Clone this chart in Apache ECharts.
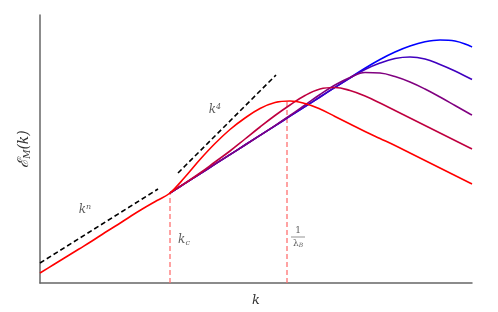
<!DOCTYPE html>
<html><head><meta charset="utf-8">
<script src="https://cdn.jsdelivr.net/npm/echarts@6/dist/echarts.min.js"></script>
<style>html,body{margin:0;padding:0;background:#fff}#c{width:498px;height:312px}</style>
</head><body><div id="c"></div>
<script>
// Values (arbitrary units)
const red    = [[0,10],[13,18],[26,26],[39,34],[52,42],[65,50.5],[78,58.5],[91,67],[104,75],[117,82.5],[130,90],[145,106],[160,123.5],[175,139.5],[190,153.5],[205,165],[220,174.5],[235,180.5],[250,182],[265,179.5],[280,174],[295,166.5],[310,159],[325,151.5],[340,144.5],[355,137.5],[370,130],[385,122.5],[400,115],[415,107.5],[430,100],[432,99]];
const curve2 = [[130,90],[145,99.8],[160,110],[175,121],[190,132],[205,144],[220,156],[235,167.5],[250,178],[265,187.5],[280,194],[295,195.5],[310,192.5],[325,187],[340,180],[355,172.5],[370,165],[385,157.5],[400,150],[415,142.5],[430,135],[432,134]];
const curve3 = [[130,90],[145,99.6],[160,109.2],[175,118.8],[190,128.4],[205,138],[220,147.6],[235,157.4],[250,167.5],[265,178],[280,188.5],[295,198],[310,205.5],[325,210.5],[340,210],[355,206.5],[370,201],[385,194],[400,186],[415,177.5],[430,169],[432,168]];
const curve4 = [[130,90],[145,99.6],[160,109.2],[175,118.8],[190,128.4],[205,138],[220,147.6],[235,157.2],[250,166.8],[265,176.4],[280,186],[295,195.6],[310,205],[325,213.5],[340,220],[355,224.5],[370,226],[385,224],[400,218.5],[415,212],[430,204.5],[432,203.5]];
const blue   = [[130,90],[145,99.6],[160,109.2],[175,118.8],[190,128.4],[205,138],[220,147.6],[235,157.2],[250,166.8],[265,176.4],[280,186],[295,195.6],[310,205.2],[325,214.8],[340,223.5],[355,231],[370,237],[385,241.2],[400,243],[415,242],[430,237],[432,236]];
const kNLine = [[0,20],[118,94]];
const k4Line = [[138,110],[236,208]];
const kc = 130, kcTop = 90;
const kB = 247, kBTop = 182;
const labelPts = {kn:[45,73], k4:[175,173], kc:[144,43], lb:[258,46]};
const colors = ['#0000ff','#4000bf','#800080','#bf0040','#ff0000'];

const serif = '"DejaVu Serif", "Liberation Serif", serif';
const chart = echarts.init(document.getElementById('c'));
function curve(d, c){ return {type:'line', data:d, smooth:0.4, showSymbol:false, lineStyle:{color:c,width:1.6}, silent:true}; }
function dash(d, c, w, t){ return {type:'line', data:d, showSymbol:false, lineStyle:{color:c,width:w,type:t}, silent:true}; }
function lab(pt, fmt, rich){ return {type:'scatter', data:[pt], symbolSize:0, silent:true,
  label:{show:true, position:'inside', formatter:fmt, rich:rich, fontFamily:serif, fontStyle:'italic', fontSize:12, color:'#333'}}; }
const base = {fontFamily:serif, fontStyle:'italic', fontSize:12, color:'#333'};
chart.setOption({
  animation:false,
  grid:{left:40, right:26, top:15, bottom:29},
  xAxis:{type:'value', min:0, max:432, axisLine:{lineStyle:{color:'#666',width:1.5}}, axisTick:{show:false}, axisLabel:{show:false}, splitLine:{show:false},
    name:'k', nameLocation:'middle', nameGap:11, nameTextStyle:{fontFamily:serif, fontStyle:'italic', fontSize:13, color:'#333'}},
  yAxis:{type:'value', min:0, max:268, axisLine:{show:true, lineStyle:{color:'#666',width:1.5}}, axisTick:{show:false}, axisLabel:{show:false}, splitLine:{show:false},
    name:'{e|ℰ}{s|M}{p|(k)}', nameLocation:'middle', nameGap:8, nameRotate:90,
    nameTextStyle:{rich:{e:Object.assign({},base,{fontSize:15}), s:Object.assign({},base,{fontSize:9, padding:[6,0,0,0]}), p:Object.assign({},base,{fontSize:14})}}},
  series:[
    dash([[kc,0],[kc,kcTop]], '#ff7070', 1.3, [5,3]),
    dash([[kB,0],[kB,kBTop]], '#ff7070', 1.3, [5,3]),
    curve(blue, colors[0]),
    curve(curve4, colors[1]),
    curve(curve3, colors[2]),
    curve(curve2, colors[3]),
    curve(red, colors[4]),
    dash(kNLine, '#000', 1.6, [5,3]),
    dash(k4Line, '#000', 1.6, [5,3]),
    lab(labelPts.kn, '{b|k}{u|n}', {b:base, u:Object.assign({},base,{fontSize:8,padding:[0,0,7,0]})}),
    lab(labelPts.k4, '{b|k}{u|4}', {b:base, u:Object.assign({},base,{fontSize:8,padding:[0,0,7,0]})}),
    lab(labelPts.kc, '{b|k}{s|c}', {b:base, s:Object.assign({},base,{fontSize:8,padding:[6,0,0,0]})}),
    lab(labelPts.lb, '{n|1}\n{l|}\n{b|λ}{s|B}', {n:Object.assign({},base,{fontStyle:'normal',fontSize:9,align:'center',width:14,lineHeight:10}),
       l:{width:14,height:0.8,backgroundColor:'#555',lineHeight:3},
       b:Object.assign({},base,{fontStyle:'normal',fontSize:9,lineHeight:10}), s:Object.assign({},base,{fontSize:6,padding:[4,0,0,0],lineHeight:10})})
  ]
});
</script></body></html>
